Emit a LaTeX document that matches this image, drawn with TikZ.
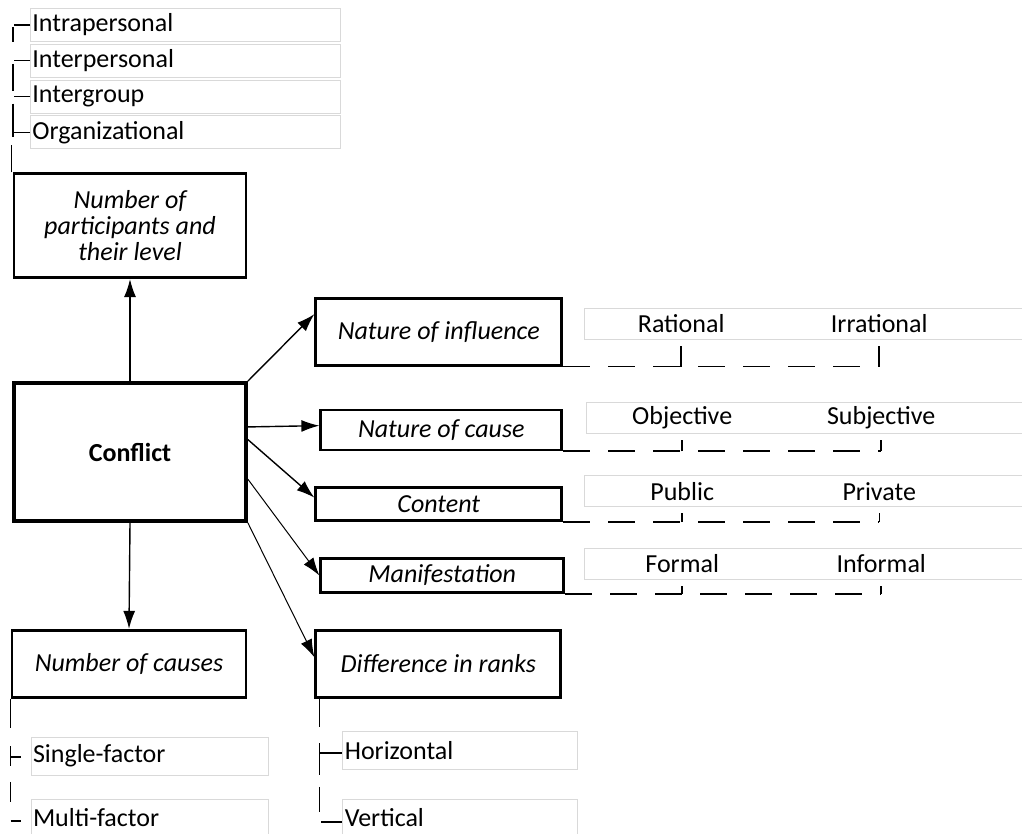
\documentclass[tikz,border=0pt]{standalone}
\usepackage{fontspec}
\setmainfont{Carlito}
\usepackage{tikz}
\usetikzlibrary{arrows.meta,positioning,calc}

\begin{document}
\begin{tikzpicture}[x=1pt, y=-1pt,
    font=\fontsize{26}{26}\selectfont,
    core/.style={rectangle, draw, line width=3.8pt, minimum width=232pt, minimum height=138pt, font=\fontsize{26}{26}\selectfont\bfseries},
    group/.style={rectangle, draw, line width=2.8pt, inner sep=2pt, align=center, font=\fontsize{26}{26}\selectfont\itshape},
    kind/.style={rectangle, draw=gray!30, line width=0.8pt, inner sep=2pt, minimum height=33pt, align=left},
    row/.style={rectangle, draw=gray!30, line width=0.8pt, minimum width=442pt, minimum height=31pt},
    arrow/.style={-{Latex[length=18pt,width=12pt]}, line width=1.4pt},
    tree/.style={line width=1.4pt},
    dashline/.style={line width=1.8pt, dash pattern=on 27pt off 18pt},
    tick/.style={line width=2.4pt, shorten >=6pt}
]
    \useasboundingbox (0,0) rectangle (1022,834);

    % Conflict
    \node[core] (conflict) at (130,452) {Conflict};

    % Left column
    \node[group, minimum width=232pt, minimum height=104pt, above=102pt of conflict] (participants) {Number of\\participants and\\their level};
    \node[group, minimum width=234pt, minimum height=67pt, below=106pt of conflict, xshift=-1pt] (causes) {Number of causes};

    % Right column
    \node[group, minimum width=245pt, minimum height=67pt, right=67pt of causes] (ranks) {Difference in ranks};
    \node[group, minimum width=243pt, minimum height=34pt, above=35pt of ranks, xshift=4pt] (manif) {Manifestation};
    \node[group, minimum width=246pt, minimum height=33pt, above=35pt of manif, xshift=-3.5pt] (content) {Content};
    \node[group, minimum width=241pt, minimum height=40pt, above=35pt of content, xshift=2.5pt] (cause) {Nature of cause};
    \node[group, minimum width=246pt, minimum height=67pt, above=42pt of cause, xshift=-2.5pt] (influence) {Nature of influence};

    % Participant levels
    \node[kind, text width=306pt, anchor=west] (intra) at (30,25) {Intrapersonal};
    \node[kind, text width=306pt, below=2pt of intra] (inter) {Interpersonal};
    \node[kind, text width=306pt, below=2pt of inter] (intergroup) {Intergroup};
    \node[kind, text width=306pt, below=2pt of intergroup] (organiz) {Organizational};

    % Kinds of cause and rank
    \node[kind, text width=233pt, minimum height=38pt, below right=38pt and 20pt of causes.south west] (single) {Single-factor};
    \node[kind, text width=233pt, minimum height=38pt, below=23pt of single] (multi) {Multi-factor};
    \node[kind, text width=231pt, minimum height=38pt, below right=32pt and 28pt of ranks.south west] (horiz) {Horizontal};
    \node[kind, text width=231pt, minimum height=38pt, below=29pt of horiz] (vert) {Vertical};

    % Pairs
    \node[row, right=21pt of influence, yshift=8pt] (row1) {};
    \node[row, right=23pt of cause, yshift=12pt] (row2) {};
    \node[row, right=21pt of content, yshift=13pt] (row3) {};
    \node[row, right=19pt of manif, yshift=11.5pt] (row4) {};
    \node (rat) at ($(row1.west)+(97,0)$) {Rational};
    \node (irr) at ($(row1.west)+(295,0)$) {Irrational};
    \node (obj) at ($(row2.west)+(96,0)$) {Objective};
    \node (subj) at ($(row2.west)+(295,0)$) {Subjective};
    \node (pub) at ($(row3.west)+(98,0)$) {Public};
    \node (priv) at ($(row3.west)+(295,0)$) {Private};
    \node (form) at ($(row4.west)+(98,0)$) {Formal};
    \node (inform) at ($(row4.west)+(297,0)$) {Informal};

    % Arrows
    \draw[arrow] (conflict.north) -- (participants.south);
    \draw[arrow] (conflict.south) -- (causes.north);
    \draw[arrow] (conflict.north east) -- (influence.172);
    \draw[arrow] (conflict.12) -- (cause.178);
    \draw[arrow] (conflict.6) -- (content.177);
    \draw[arrow, line width=1pt] (conflict.-13) -- (manif.west);
    \draw[arrow, line width=1pt] (conflict.south east) -- (ranks.177);

    % Pair lines
    \draw[dashline] (influence.south east) -- (irr |- influence.south east);
    \draw[tick] (rat |- influence.south east) -- (rat |- row1.south);
    \draw[tick] (irr |- influence.south east) -- (irr |- row1.south);
    \draw[dashline] (cause.south east) -- (subj |- cause.south east);
    \draw[tick] (obj |- cause.south east) -- (obj |- row2.south);
    \draw[tick] (subj |- cause.south east) -- (subj |- row2.south);
    \draw[dashline] (content.south east) -- (priv |- content.south east);
    \draw[tick] (pub |- content.south east) -- (pub |- row3.south);
    \draw[tick, line width=1pt] (priv |- content.south east) -- (priv |- row3.south);
    \draw[dashline] (manif.south east) -- (inform |- manif.south east);
    \draw[tick] (form |- manif.south east) -- (form |- row4.south);
    \draw[tick] (inform |- manif.south east) -- (inform |- row4.south);

    % Level tree
    \draw[tree] (intra.west) -- ++(-16,0);
    \draw[tree] (inter.west) -- ++(-16,0);
    \draw[tree] (intergroup.west) -- ++(-16,0);
    \draw[tree] (organiz.west) -- ++(-16,0);
    \draw[tree] ($(intra.west)+(-17,2)$) -- ++(0,15);
    \draw[tree] ($(inter.west)+(-17,3)$) -- ++(0,27);
    \draw[tree] ($(intergroup.west)+(-17,7)$) -- ++(0,33);
    \draw[tree] ([xshift=-1pt]participants.north west) -- ++(0,-27);

    % Cause tree
    \draw[tree] (causes.south west) -- ++(0,29);
    \draw[tree] ($(single.west)+(-20,-10)$) -- ++(0,20);
    \draw[tree] ($(single.west)+(-20,1)$) -- ++(10,0);
    \draw[tree] ($(multi.west)+(-20,-36)$) -- ++(0,20);
    \draw[tree] ($(multi.west)+(-20,3)$) -- ++(10,0);

    % Rank tree
    \draw[tree] ([xshift=5pt]ranks.south west) -- ++(0,28);
    \draw[tree] ($(horiz.west)+(-23,-7)$) -- ++(0,32);
    \draw[tree] ($(horiz.west)+(-23,3)$) -- ++(23,0);
    \draw[tree] ($(vert.west)+(-23,-31)$) -- ++(0,25);
    \draw[tree] ($(vert.west)+(-21,4)$) -- ++(21,0);
\end{tikzpicture}
\end{document}
